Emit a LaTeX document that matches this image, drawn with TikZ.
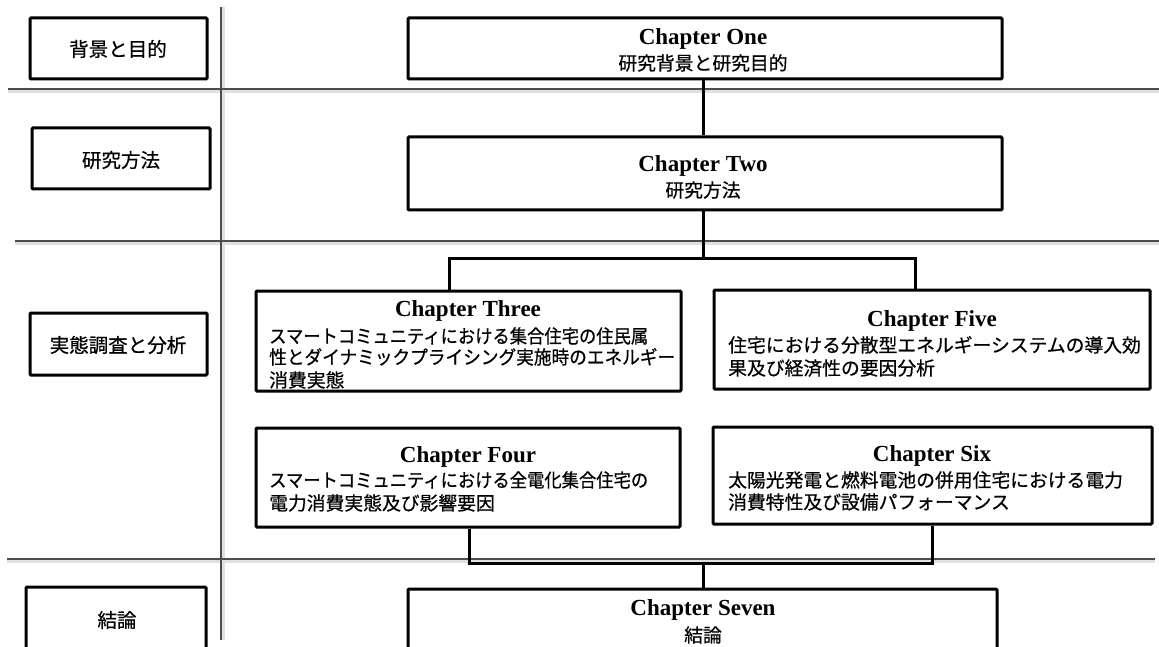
\documentclass[tikz,border=0pt]{standalone}
\usepackage{fontspec}
\usepackage{graphicx}
\setmainfont{Liberation Serif}
\newfontfamily\jp[FakeBold=0.6]{Noto Sans CJK JP}
\newcommand{\jfit}[2]{\resizebox{#1pt}{\height}{#2}}
\begin{document}
\begin{tikzpicture}[x=1pt,y=-1pt,
  box/.style={draw=black, line width=3pt, rounded corners=1pt, inner sep=0pt, fill=white},
  link/.style={draw=black, line width=3pt},
  sep/.style={draw=black!70, line width=1.3pt},
  shade/.style={draw=black!12, line width=2.5pt},
  ttl/.style={font=\fontsize{23}{27}\selectfont\bfseries, anchor=base, inner sep=0pt},
  jl/.style={font=\jp\fontsize{18.8}{22}\selectfont, anchor=base west, inner sep=0pt},
  jc/.style={font=\jp\fontsize{18.8}{22}\selectfont, anchor=base, inner sep=0pt},
  lab/.style={font=\jp\fontsize{19.5}{23}\selectfont, anchor=base, inner sep=0pt}]
\clip (0,0) rectangle (1159,647);
\fill[white] (0,0) rectangle (1159,647);
% separators
\draw[shade] (8,91.5) -- (1159,91.5);
\draw[shade] (15,243.5) -- (1159,243.5);
\draw[shade] (7,561.5) -- (1155,561.5);
\draw[shade] (223.5,7) -- (223.5,640);
\draw[sep] (8,89) -- (1159,89);
\draw[sep] (15,241) -- (1159,241);
\draw[sep] (7,559) -- (1155,559);
\draw[sep] (221,7) -- (221,640);
% left boxes
\node[box, minimum width=177pt, minimum height=61pt] (L1) at (118.5,48.5) {};
\node[box, minimum width=178pt, minimum height=61pt] (L2) at (121,158.5) {};
\node[box, minimum width=177pt, minimum height=62pt] (L3) at (118.5,344) {};
\node[box, minimum width=180pt, minimum height=73pt] (L4) at (116,623.5) {};
\node[lab] (l1) at (118,56.4) {背景と目的};
\node[lab] (l2) at (121,167.4) {研究方法};
\node[lab] (l3) at (118,352.4) {実態調査と分析};
\node[lab] (l4) at (117,627.4) {結論};
% chapter boxes
\node[box, minimum width=594pt, minimum height=61pt] (c1) at (705,48.5) {};
\node[box, minimum width=594pt, minimum height=73pt] (c2) at (705,173.5) {};
\node[box, minimum width=425pt, minimum height=100pt] (c3) at (468.5,341) {};
\node[box, minimum width=436pt, minimum height=99pt] (c5) at (932,339.5) {};
\node[box, minimum width=424pt, minimum height=99pt] (c4) at (468,477.5) {};
\node[box, minimum width=439pt, minimum height=97pt] (c6) at (932.5,475.5) {};
\node[box, minimum width=589pt, minimum height=71pt] (c7) at (702.5,624.5) {};
% connectors
\coordinate (t) at (703,0);
\coordinate (b1) at (703,258);
\coordinate (b3) at (449,258);
\coordinate (b5) at (915,258);
\coordinate (d4) at (469,563);
\coordinate (d6) at (932,563);
\coordinate (d7) at (703,563);
\draw[link] (c1.south -| t) -- (c2.north -| t);
\draw[link] (c2.south -| b1) -- (b1);
\draw[link] (c3.north -| b3) -- (b3) -- (b5) -- (c5.north -| b5);
\draw[link] (c4.south -| d4) -- (d4) -- (d6) -- (c6.south -| d6);
\draw[link] (d7) -- (c7.north -| d7);
% texts
\node[ttl] (t1) at (703,45) {Chapter One};
\node[jc] (j1) at (703,70.1) {研究背景と研究目的};
\node[ttl] (t2) at (703,172) {Chapter Two};
\node[jc] (j2) at (703,197.1) {研究方法};
\node[ttl] (t3) at (468,316) {Chapter Three};
\node[jl] (j31) at (269,343.1) {\jfit{379}{スマートコミュニティにおける集合住宅の住民属}};
\node[jl] (j32) at (269,364.1) {\jfit{406}{性とダイナミックプライシング実施時のエネルギー}};
\node[jl] (j33) at (269,387.1) {消費実態};
\node[ttl] (t5) at (932,326) {Chapter Five};
\node[jl] (j51) at (728,352.1) {住宅における分散型エネルギーシステムの導入効};
\node[jl] (j52) at (728,375.1) {果及び経済性の要因分析};
\node[ttl] (t4) at (468,462) {Chapter Four};
\node[jl] (j41) at (269,487.1) {\jfit{379}{スマートコミュニティにおける全電化集合住宅の}};
\node[jl] (j42) at (269,510.1) {電力消費実態及び影響要因};
\node[ttl] (t6) at (932,461) {Chapter Six};
\node[jl] (j61) at (728,487.1) {太陽光発電と燃料電池の併用住宅における電力};
\node[jl] (j62) at (728,509.1) {消費特性及び設備パフォーマンス};
\node[ttl] (t7) at (703,615) {Chapter Seven};
\node[jc] (j7) at (703,642.1) {結論};
\end{tikzpicture}
\end{document}
